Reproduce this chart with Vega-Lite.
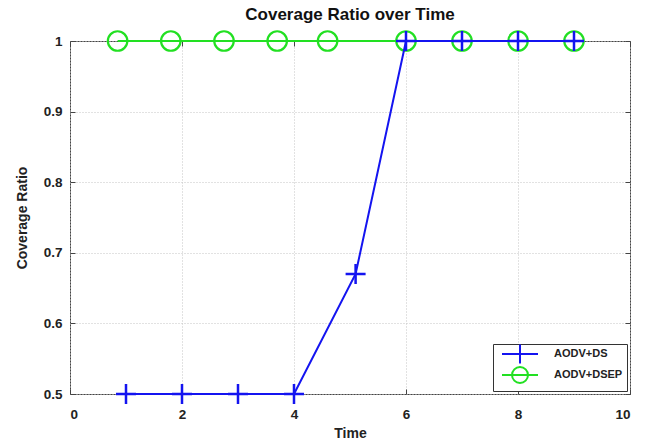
{
  "$schema": "https://vega.github.io/schema/vega-lite/v6.json",
  "autosize": {"type": "none"},
  "padding": {"left": 70, "top": 41, "right": 22, "bottom": 49},
  "width": 560,
  "height": 353,
  "background": "white",
  "title": {"text": "Coverage Ratio over Time", "font": "Liberation Sans", "fontSize": 17, "fontWeight": "bold", "color": "#111", "offset": 2, "anchor": "middle"},
  "config": {
    "view": {"stroke": "#444", "strokeWidth": 1},
    "axis": {"labelFont": "Liberation Sans", "labelFontSize": 13.5, "labelFontWeight": "bold", "labelColor": "#222", "titleFont": "Liberation Sans", "titleFontSize": 14, "titleFontWeight": "bold", "titleColor": "#222", "domain": false, "tickColor": "#444", "tickSize": -5, "gridColor": "#c4c4c4", "gridDash": [1, 2], "gridWidth": 1}
  },
  "datasets": {
    "ds": [
      {"time": 1, "ratio": 0.5, "protocol": "AODV+DS"},
      {"time": 2, "ratio": 0.5, "protocol": "AODV+DS"},
      {"time": 3, "ratio": 0.5, "protocol": "AODV+DS"},
      {"time": 4, "ratio": 0.5, "protocol": "AODV+DS"},
      {"time": 5.1, "ratio": 0.67, "protocol": "AODV+DS"},
      {"time": 6, "ratio": 1, "protocol": "AODV+DS"},
      {"time": 7, "ratio": 1, "protocol": "AODV+DS"},
      {"time": 8, "ratio": 1, "protocol": "AODV+DS"},
      {"time": 9, "ratio": 1, "protocol": "AODV+DS"}
    ],
    "dsep": [
      {"time": 0.85, "ratio": 1, "protocol": "AODV+DSEP"},
      {"time": 1.8, "ratio": 1, "protocol": "AODV+DSEP"},
      {"time": 2.75, "ratio": 1, "protocol": "AODV+DSEP"},
      {"time": 3.7, "ratio": 1, "protocol": "AODV+DSEP"},
      {"time": 4.6, "ratio": 1, "protocol": "AODV+DSEP"},
      {"time": 6, "ratio": 1, "protocol": "AODV+DSEP"},
      {"time": 7, "ratio": 1, "protocol": "AODV+DSEP"},
      {"time": 8, "ratio": 1, "protocol": "AODV+DSEP"},
      {"time": 9, "ratio": 1, "protocol": "AODV+DSEP"}
    ]
  },
  "resolve": {"axis": {"x": "independent", "y": "independent"}},
  "layer": [
    {
      "data": {"name": "dsep"},
      "mark": {"type": "line", "strokeWidth": 2, "clip": false},
      "encoding": {
        "x": {"field": "time", "type": "quantitative", "scale": {"domain": [0, 10], "nice": false}, "axis": {"title": "Time", "values": [0, 2, 4, 6, 8, 10], "grid": true, "labelPadding": 18, "titleY": 39, "titleBaseline": "middle"}},
        "y": {"field": "ratio", "type": "quantitative", "scale": {"domain": [0.5, 1], "nice": false, "zero": false}, "axis": {"title": "Coverage Ratio", "values": [0.5, 0.6, 0.7, 0.8, 0.9, 1], "format": ".1~f", "grid": true, "labelPadding": 13, "titleX": -48, "titleBaseline": "middle"}},
        "color": {"field": "protocol", "type": "nominal", "scale": {"domain": ["AODV+DS", "AODV+DSEP"], "range": ["#1414f0", "#22e022"]},
          "legend": {"title": null, "orient": "none", "legendX": 423, "legendY": 303, "direction": "vertical", "fillColor": "white", "strokeColor": "#333", "padding": 4, "symbolSize": 100, "symbolStrokeWidth": 2, "symbolOffset": 17, "labelOffset": 28, "rowPadding": -5, "labelFont": "Liberation Sans", "labelFontSize": 11, "labelFontWeight": "bold", "labelColor": "#222",
            "encode": {"symbols": {"update": {"shape": {"signal": "datum.value === 'AODV+DS' ? 'M-3.6,0L3.6,0M0,-1.9L0,1.9' : 'M-3.6,0L3.6,0M-1.6,0A1.6,1.6 0 1,1 1.6,0A1.6,1.6 0 1,1 -1.6,0'"}, "fill": {"value": "transparent"}, "strokeWidth": {"value": 2}, "opacity": {"value": 1}}}}}}
      }
    },
    {
      "data": {"name": "dsep"},
      "mark": {"type": "point", "shape": "circle", "filled": false, "size": 380, "strokeWidth": 2.2, "opacity": 1, "clip": false},
      "encoding": {
        "x": {"field": "time", "type": "quantitative", "axis": null},
        "y": {"field": "ratio", "type": "quantitative", "axis": null},
        "color": {"field": "protocol", "type": "nominal"}
      }
    },
    {
      "data": {"name": "ds"},
      "mark": {"type": "line", "strokeWidth": 2, "clip": false},
      "encoding": {
        "x": {"field": "time", "type": "quantitative", "axis": {"orient": "top", "title": null, "labels": false, "grid": false, "values": [0, 2, 4, 6, 8, 10]}},
        "y": {"field": "ratio", "type": "quantitative", "axis": {"orient": "right", "title": null, "labels": false, "grid": false, "values": [0.5, 0.6, 0.7, 0.8, 0.9, 1]}},
        "color": {"field": "protocol", "type": "nominal"}
      }
    },
    {
      "data": {"name": "ds"},
      "mark": {"type": "point", "shape": "M-1,0L1,0M0,-1L0,1", "filled": false, "size": 400, "strokeWidth": 2.5, "opacity": 1, "clip": false},
      "encoding": {
        "x": {"field": "time", "type": "quantitative", "axis": null},
        "y": {"field": "ratio", "type": "quantitative", "axis": null},
        "color": {"field": "protocol", "type": "nominal"}
      }
    }
  ]
}
